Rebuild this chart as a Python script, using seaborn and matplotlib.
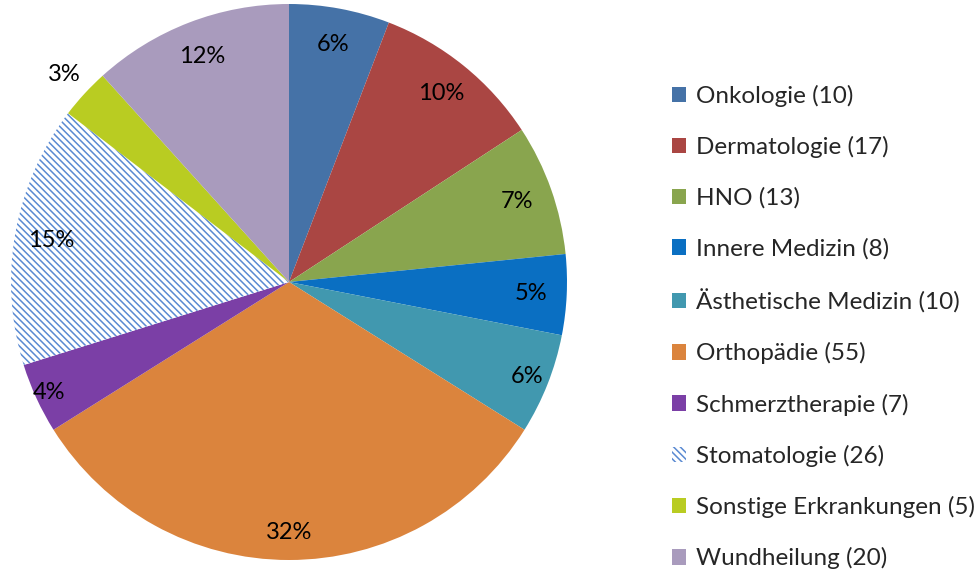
import numpy as np
import matplotlib
matplotlib.use("Agg")
import matplotlib.pyplot as plt
import seaborn as sns

sns.set_theme(style="white")
plt.rcParams['font.family'] = ['Lato', 'DejaVu Sans']
plt.rcParams['hatch.linewidth'] = 1.1

# Daten
kategorien = ["Onkologie", "Dermatologie", "HNO", "Innere Medizin", "Ästhetische Medizin",
              "Orthopädie", "Schmerztherapie", "Stomatologie", "Sonstige Erkrankungen", "Wundheilung"]
anzahl = [10, 17, 13, 8, 10, 55, 7, 26, 5, 20]
prozent_labels = ["6%", "10%", "7%", "5%", "6%", "32%", "4%", "15%", "3%", "12%"]
farben = ["#4572A7", "#AA4643", "#89A54E", "#0A6FC2", "#4198AF",
          "#DB843D", "#7B3FA6", "#FFFFFF", "#B9CC22", "#A99BBD"]

fig = plt.figure(figsize=(9.8, 5.75), dpi=100)
ax = fig.add_axes([11 / 980, 15 / 575, 556 / 980, 556 / 575])

wedges, texts = ax.pie(
    anzahl,
    colors=farben,
    startangle=90,
    counterclock=False,
    labels=prozent_labels,
    labeldistance=0.87,
    wedgeprops={"linewidth": 0},
    textprops={"fontsize": 17, "color": "#000000", "ha": "center", "va": "center"},
)
ax.set_xlim(-1, 1)
ax.set_ylim(-1, 1)
ax.set_aspect("equal")

# Stomatologie schraffiert
wedges[7].set_facecolor("white")
wedges[7].set_edgecolor("#5A8AD2")
wedges[7].set_hatch("\\\\\\\\\\")
wedges[7].set_linewidth(0)

# Beschriftungen einzelner Segmente etwas verschieben
for i, r in [(8, 1.1), (6, 0.95), (4, 0.92), (5, 0.9)]:
    w = wedges[i]
    theta = np.deg2rad((w.theta1 + w.theta2) / 2)
    texts[i].set_position((r * np.cos(theta), r * np.sin(theta)))

for t in texts:
    t.set_ha("center")
    t.set_va("center")

legend_labels = [f"{k} ({n})" for k, n in zip(kategorien, anzahl)]
fig.legend(
    wedges, legend_labels,
    loc="center left",
    bbox_to_anchor=(0.663, 0.431),
    frameon=False,
    fontsize=17.5,
    handlelength=0.6,
    handleheight=0.6,
    handletextpad=0.4,
    labelspacing=1.2,
)

fig.savefig("out.png", dpi=100, facecolor="white")
